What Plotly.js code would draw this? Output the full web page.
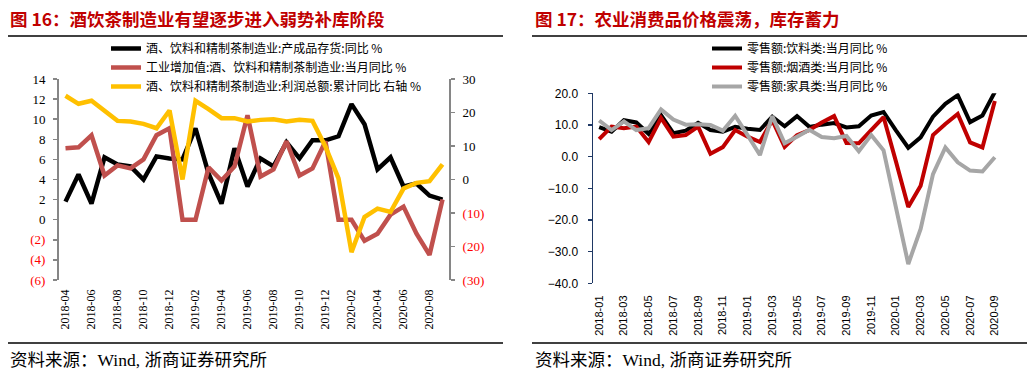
<!DOCTYPE html>
<html><head><meta charset="utf-8">
<script src="https://cdn.plot.ly/plotly-3.0.1.min.js"></script>
<style>html,body{margin:0;padding:0;background:#fff}#chart{width:1036px;height:375px}</style>
</head><body><div id="chart"></div>
<script>
// ---------- Left chart data ----------
const monthsL = ['2018-04','2018-05','2018-06','2018-07','2018-08','2018-09','2018-10','2018-11','2018-12',
  '2019-01','2019-02','2019-03','2019-04','2019-05','2019-06','2019-07','2019-08','2019-09','2019-10','2019-11','2019-12',
  '2020-01','2020-02','2020-03','2020-04','2020-05','2020-06','2020-07','2020-08','2020-09'];
const inventoryYoY = [1.8, 4.5, 1.6, 6.2, 5.5, 5.3, 4.0, 6.3, 6.1, 6.0, 9.1, 4.6, 1.6, 7.1, 3.3, 6.1, 5.3, 7.7, 6.1, 7.9, 7.9, 8.3, 11.5, 9.5, 5.0, 6.2, 3.3, 3.6, 2.4, 2.0];
const valueAddedYoY = [7.1, 7.2, 8.4, 4.4, 5.4, 5.1, 6.0, 8.4, 9.1, 0, 0, 5.2, 3.9, 5.3, 10.4, 4.3, 5.0, 7.8, 4.4, 5.1, 7.8, 0, 0, -2.1, -1.4, 0.5, 1.3, -1.4, -3.5, 2.0];
const profitYoY = [25.0, 22.6, 23.5, 20.3, 17.5, 17.3, 16.6, 15.3, 20.6, 0.0, 23.5, 21.0, 18.3, 18.3, 17.3, 17.8, 18.0, 17.3, 17.8, 17.5, 9.8, 0.3, -21.7, -11.2, -8.7, -9.7, -2.7, -1.0, -0.5, 4.5];
const xTicksL = ['2018-04','2018-06','2018-08','2018-10','2018-12','2019-02','2019-04','2019-06','2019-08','2019-10','2019-12','2020-02','2020-04','2020-06','2020-08'];
const yTickValsL = [-6,-4,-2,0,2,4,6,8,10,12,14];
const yTickTextL = ['(6)','(4)','(2)','0','2','4','6','8','10','12','14'];
const yTickValsL2 = [-30,-20,-10,0,10,20,30];
const yTickTextL2 = ['(30)','(20)','(10)','0','10','20','30'];
const namesL = ['酒、饮料和精制茶制造业:产成品存货:同比 %','工业增加值:酒、饮料和精制茶制造业:当月同比 %','酒、饮料和精制茶制造业:利润总额:累计同比 右轴 %'];

// ---------- Right chart data ----------
const monthsR = ['2018-01','2018-02','2018-03','2018-04','2018-05','2018-06','2018-07','2018-08','2018-09','2018-10','2018-11','2018-12',
  '2019-01','2019-02','2019-03','2019-04','2019-05','2019-06','2019-07','2019-08','2019-09','2019-10','2019-11','2019-12',
  '2020-01','2020-02','2020-03','2020-04','2020-05','2020-06','2020-07','2020-08','2020-09'];
const beverage = [9.3, 7.9, 11.5, 10.8, 7.2, 13.1, 7.4, 8.2, 10.7, 8.4, 7.9, 9.4, 8.8, 8.4, 12.6, 9.6, 12.8, 9.4, 10.1, 10.6, 9.2, 9.6, 13.0, 14.1, 8.3, 2.8, 6.1, 12.6, 16.7, 19.4, 10.9, 13.0, 20.4];
const tobaccoLiquor = [5.5, 9.5, 9.0, 9.5, 4.6, 12.2, 6.3, 6.8, 9.5, 0.9, 3.0, 8.4, 6.3, 4.6, 11.5, 3.1, 6.8, 8.4, 10.8, 12.8, 4.3, 4.2, 8.4, 12.5, -1.5, -15.9, -9.2, 6.8, 10.3, 13.5, 4.5, 2.9, 17.6];
const furniture = [11.4, 8.4, 11.1, 8.4, 9.0, 14.9, 11.7, 10.1, 10.2, 10.0, 8.2, 12.9, 6.8, 0.5, 12.8, 4.2, 6.3, 8.5, 6.2, 5.8, 6.5, 1.7, 6.8, 2.0, -16.0, -33.9, -22.8, -5.5, 2.9, -1.8, -4.4, -4.7, -0.2];
const xTicksR = ['2018-01','2018-03','2018-05','2018-07','2018-09','2018-11','2019-01','2019-03','2019-05','2019-07','2019-09','2019-11','2020-01','2020-03','2020-05','2020-07','2020-09'];
const namesR = ['零售额:饮料类:当月同比 %','零售额:烟酒类:当月同比 %','零售额:家具类:当月同比 %'];

// ---------- Texts ----------
const titleL = '图 16：酒饮茶制造业有望逐步进入弱势补库阶段';
const titleR = '图 17：农业消费品价格震荡，库存蓄力';
const sourceText = '资料来源：Wind, 浙商证券研究所';

// ---------- Geometry helpers ----------
const W = 1036, H = 375;
const px = x => x / W;
const py = y => 1 - y / H;
const redNeg = t => t.startsWith('(') ? '<span style="color:#FF0000">' + t + '</span>' : t;

const yDomL = [py(280), py(79)];
const yRangeL = [-6, 14];
const zeroPosL = yDomL[0] + (0 - yRangeL[0]) / (yRangeL[1] - yRangeL[0]) * (yDomL[1] - yDomL[0]);
const yDomR = [py(283.3), py(93.3)];
const yRangeR = [-40, 20];
const zeroPosR = yDomR[0] + (0 - yRangeR[0]) / (yRangeR[1] - yRangeR[0]) * (yDomR[1] - yDomR[0]);
const boundaryTicks = n => { const a = []; for (let i = 1; i < n - 1; i += 2) a.push(i + 0.5); return a; };

const gray = '#868686';
const navy = '#1F3864';
const cjk = 'Noto Sans CJK SC';

const traces = [
  {x: monthsL, y: inventoryYoY, name: namesL[0], type: 'scatter', mode: 'lines', xaxis: 'x', yaxis: 'y',
   line: {color: '#000000', width: 4.5}, legend: 'legend'},
  {x: monthsL, y: valueAddedYoY, name: namesL[1], type: 'scatter', mode: 'lines', xaxis: 'x', yaxis: 'y',
   line: {color: '#C0504D', width: 4.5}, legend: 'legend'},
  {x: monthsL, y: profitYoY, name: namesL[2], type: 'scatter', mode: 'lines', xaxis: 'x', yaxis: 'y2',
   line: {color: '#FFC000', width: 4.5}, legend: 'legend'},
  {x: monthsR, y: beverage, name: namesR[0], type: 'scatter', mode: 'lines', xaxis: 'x2', yaxis: 'y3',
   line: {color: '#000000', width: 4}, legend: 'legend2'},
  {x: monthsR, y: tobaccoLiquor, name: namesR[1], type: 'scatter', mode: 'lines', xaxis: 'x2', yaxis: 'y3',
   line: {color: '#C00000', width: 4}, legend: 'legend2'},
  {x: monthsR, y: furniture, name: namesR[2], type: 'scatter', mode: 'lines', xaxis: 'x2', yaxis: 'y3',
   line: {color: '#A6A6A6', width: 4}, legend: 'legend2'}
];

const layout = {
  width: W, height: H,
  margin: {l: 0, r: 0, t: 0, b: 0},
  paper_bgcolor: '#ffffff', plot_bgcolor: 'rgba(0,0,0,0)',
  showlegend: true,
  font: {family: cjk, color: '#000'},
  // left chart
  xaxis: {domain: [px(59), px(449)], anchor: 'y', type: 'category', range: [-0.5, monthsL.length - 0.5],
    tickmode: 'array', tickvals: xTicksL, ticktext: xTicksL, tickangle: -90, ticks: '', showline: false,
    showgrid: false, zeroline: false, ticklabelstandoff: 6,
    tickfont: {family: 'Liberation Serif', size: 12, color: '#000'}},
  xaxis3: {overlaying: 'x', anchor: 'free', position: zeroPosL, type: 'linear', range: [-0.5, monthsL.length - 0.5],
    tickmode: 'array', tickvals: boundaryTicks(monthsL.length), ticks: 'outside', ticklen: 5, tickwidth: 1.5,
    tickcolor: gray, showline: true, linecolor: gray, linewidth: 2, showticklabels: false, showgrid: false, zeroline: false},
  yaxis: {domain: yDomL, anchor: 'x', range: yRangeL, tickmode: 'array', tickvals: yTickValsL,
    ticktext: yTickTextL.map(redNeg), ticks: 'outside', ticklen: 4, tickwidth: 1.5, tickcolor: gray,
    showline: true, linecolor: gray, linewidth: 2, showgrid: false, zeroline: false, ticklabelstandoff: 5,
    tickfont: {family: 'Liberation Serif', size: 13, color: '#000'}},
  yaxis2: {overlaying: 'y', side: 'right', anchor: 'x', range: [-30, 30], tickmode: 'array', tickvals: yTickValsL2,
    ticktext: yTickTextL2.map(redNeg), ticks: 'outside', ticklen: 4, tickwidth: 1.5, tickcolor: gray,
    showline: true, linecolor: gray, linewidth: 2, showgrid: false, zeroline: false, ticklabelstandoff: 5,
    tickfont: {family: 'Liberation Serif', size: 13, color: '#000'}},
  // right chart
  xaxis2: {domain: [px(593), px(1001)], anchor: 'y3', type: 'category', range: [-0.5, monthsR.length - 0.5],
    tickmode: 'array', tickvals: xTicksR, ticktext: xTicksR, tickangle: -90, ticks: '', showline: false,
    showgrid: false, zeroline: false, ticklabelstandoff: 9,
    tickfont: {family: 'Liberation Sans', size: 11, color: '#000'}},
  xaxis4: {overlaying: 'x2', anchor: 'free', position: zeroPosR, type: 'linear', range: [-0.5, monthsR.length - 0.5],
    tickmode: 'array', tickvals: boundaryTicks(monthsR.length), ticks: 'outside', ticklen: 5, tickwidth: 1.2,
    tickcolor: '#000', showline: true, linecolor: '#000', linewidth: 1.5, showticklabels: false, showgrid: false, zeroline: false},
  yaxis3: {domain: yDomR, anchor: 'x2', range: yRangeR, dtick: 10, tick0: 0, tickformat: '.1f',
    ticks: 'outside', ticklen: 4, tickwidth: 1.2, tickcolor: navy, showline: true, linecolor: navy, linewidth: 1.5,
    showgrid: false, zeroline: false, ticklabelstandoff: 7,
    tickfont: {family: 'Liberation Sans', size: 12, color: '#000'}},
  legend: {x: px(106), xanchor: 'left', y: py(34), yanchor: 'top', bgcolor: 'rgba(0,0,0,0)',
    font: {family: cjk, size: 12, color: '#000'}, tracegroupgap: 0},
  legend2: {x: px(707), xanchor: 'left', y: py(34), yanchor: 'top', bgcolor: 'rgba(0,0,0,0)',
    font: {family: cjk, size: 12, color: '#000'}, tracegroupgap: 0},
  shapes: [
    {type: 'line', xref: 'paper', yref: 'paper', x0: px(8), x1: px(503), y0: py(36), y1: py(36), line: {color: '#000', width: 1.5}},
    {type: 'line', xref: 'paper', yref: 'paper', x0: px(532), x1: px(1027), y0: py(36), y1: py(36), line: {color: '#000', width: 1.5}},
    {type: 'line', xref: 'paper', yref: 'paper', x0: px(8), x1: px(503), y0: py(343), y1: py(343), line: {color: '#000', width: 1.5}},
    {type: 'line', xref: 'paper', yref: 'paper', x0: px(532), x1: px(1027), y0: py(343), y1: py(343), line: {color: '#000', width: 1.5}}
  ],
  annotations: [
    {text: titleL, xref: 'paper', yref: 'paper', x: px(8), y: py(19), xanchor: 'left', yanchor: 'middle', showarrow: false,
     font: {family: cjk, size: 17.5, color: '#C00000', weight: 700}},
    {text: titleR, xref: 'paper', yref: 'paper', x: px(533), y: py(19), xanchor: 'left', yanchor: 'middle', showarrow: false,
     font: {family: cjk, size: 17.5, color: '#C00000', weight: 700}},
    {text: sourceText, xref: 'paper', yref: 'paper', x: px(8), y: py(360), xanchor: 'left', yanchor: 'middle', showarrow: false,
     font: {family: 'Liberation Serif, ' + cjk, size: 17.5, color: '#000'}},
    {text: sourceText, xref: 'paper', yref: 'paper', x: px(533), y: py(360), xanchor: 'left', yanchor: 'middle', showarrow: false,
     font: {family: 'Liberation Serif, ' + cjk, size: 17.5, color: '#000'}}
  ]
};

Plotly.newPlot('chart', traces, layout, {displayModeBar: false, staticPlot: true});
</script>
</body></html>
